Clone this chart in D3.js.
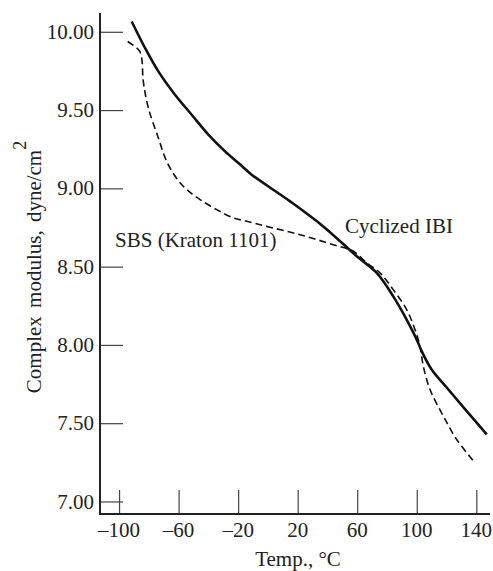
<!DOCTYPE html>
<html>
<head>
<meta charset="utf-8">
<script src="https://cdn.jsdelivr.net/npm/d3@7"></script>
<style>
  html, body { margin: 0; padding: 0; background: #fff; }
  svg { display: block; }
  text { font-family: "Liberation Serif", "Times New Roman", serif; fill: #222; }
</style>
</head>
<body>
<svg id="chart" width="493" height="571"></svg>
<script>
// ---- Data ----
const xTicks = [-100, -60, -20, 20, 60, 100, 140];
const xTickLabels = ["–100", "–60", "–20", "20", "60", "100", "140"];
const yTicks = [7.0, 7.5, 8.0, 8.5, 9.0, 9.5, 10.0];
const yTickLabels = ["7.00", "7.50", "8.00", "8.50", "9.00", "9.50", "10.00"];

// Cyclized IBI (solid)
const ibiTemp = [-91.5, -82.5, -73.6, -62.4, -51.2, -40.0, -28.8, -19.0, -10.9, 14.9, 37.2, 59.7, 73.1, 84.2, 93.2, 100.0, 103.3, 110.0, 120.1, 147.0];
const ibiModulus = [10.066, 9.896, 9.747, 9.598, 9.470, 9.343, 9.236, 9.155, 9.087, 8.917, 8.757, 8.566, 8.460, 8.310, 8.162, 8.034, 7.960, 7.843, 7.728, 7.428];

// SBS (Kraton 1101) (dashed)
const sbsTemp = [-94.2, -86.5, -84.8, -83.7, -80.3, -73.6, -68.0, -61.0, -54.5, -45.6, -34.4, -23.2, -14.2, -0.8, 21.6, 43.9, 57.4, 66.4, 75.3, 84.2, 93.2, 98.8, 102.2, 104.4, 108.9, 117.9, 126.8, 139.1];
const sbsModulus = [9.938, 9.880, 9.832, 9.683, 9.513, 9.322, 9.172, 9.060, 8.992, 8.928, 8.864, 8.811, 8.790, 8.757, 8.704, 8.640, 8.598, 8.524, 8.460, 8.353, 8.226, 8.098, 7.991, 7.864, 7.715, 7.545, 7.396, 7.247];

const seriesLabels = ["Cyclized IBI", "SBS (Kraton 1101)"];

// ---- Layout ----
const svg = d3.select("#chart");
const mLeft = 100, mRight = 490, mTop = 13, mBottom = 514;

const x = d3.scaleLinear().domain([-112.8, 149.2]).range([mLeft, mRight]);
const y = d3.scaleLinear().domain([6.92, 10.12]).range([mBottom, mTop]);

const FS = 21;

// ticks (inside)
const yAxis = d3.axisRight(y).tickValues(yTicks).tickSize(23).tickFormat("");
const gy = svg.append("g").attr("transform", `translate(${mLeft},0)`).call(yAxis);
gy.select(".domain").remove();
gy.selectAll(".tick line").attr("stroke", "#444").attr("stroke-width", 1.2);

const xAxis = d3.axisTop(x).tickValues(xTicks).tickSize(24).tickFormat("");
const gx = svg.append("g").attr("transform", `translate(0,${mBottom})`).call(xAxis);
gx.select(".domain").remove();
gx.selectAll(".tick line").attr("stroke", "#444").attr("stroke-width", 1.2);

// axis lines
svg.append("line").attr("x1", mLeft).attr("x2", mLeft).attr("y1", mTop).attr("y2", mBottom + 1)
  .attr("stroke", "#222").attr("stroke-width", 2);
svg.append("line").attr("x1", mLeft - 1).attr("x2", mRight).attr("y1", mBottom).attr("y2", mBottom)
  .attr("stroke", "#222").attr("stroke-width", 2);

// tick labels
svg.append("g").selectAll("text").data(yTicks).join("text")
  .attr("x", mLeft - 6).attr("y", d => y(d)).attr("dy", "0.34em")
  .attr("text-anchor", "end").attr("font-size", FS)
  .text((d, i) => yTickLabels[i]);

svg.append("g").selectAll("text").data(xTicks).join("text")
  .attr("x", d => x(d)).attr("y", mBottom + 23)
  .attr("text-anchor", "middle").attr("font-size", FS)
  .text((d, i) => xTickLabels[i]);

// axis titles
svg.append("text").attr("x", 298).attr("y", 566)
  .attr("text-anchor", "middle").attr("font-size", FS)
  .text("Temp., °C");

const yt = svg.append("text")
  .attr("transform", "translate(41,267) rotate(-90)")
  .attr("text-anchor", "middle").attr("font-size", FS)
  .attr("word-spacing", "3px");
yt.append("tspan").text("Complex modulus, dyne/cm");
yt.append("tspan").attr("dy", -15).attr("font-size", 18).text("2");

// curves
const line = d3.line().x(d => x(d[0])).y(d => y(d[1])).curve(d3.curveCatmullRom.alpha(0.5));

svg.append("path")
  .datum(sbsTemp.map((t, i) => [t, sbsModulus[i]]))
  .attr("d", line).attr("fill", "none").attr("stroke", "#111")
  .attr("stroke-width", 1.6).attr("stroke-dasharray", "7,4");

svg.append("path")
  .datum(ibiTemp.map((t, i) => [t, ibiModulus[i]]))
  .attr("d", line).attr("fill", "none").attr("stroke", "#111")
  .attr("stroke-width", 2.6);

// labels
svg.append("text").attr("x", x(51.8)).attr("y", y(8.717))
  .attr("font-size", FS).text(seriesLabels[0]);
svg.append("text").attr("x", x(-102.7)).attr("y", y(8.628))
  .attr("font-size", FS).text(seriesLabels[1]);
</script>
</body>
</html>
